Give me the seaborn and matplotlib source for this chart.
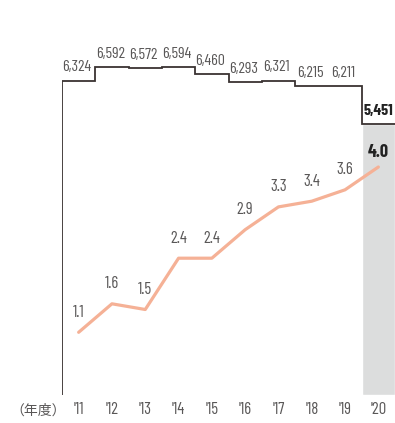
import numpy as np
import pandas as pd
import matplotlib
matplotlib.use("Agg")
import matplotlib.pyplot as plt
import seaborn as sns

years = ["'11", "'12", "'13", "'14", "'15", "'16", "'17", "'18", "'19", "'20"]
counts = [6324, 6592, 6572, 6594, 6460, 6293, 6321, 6215, 6211, 5451]
rates = [1.1, 1.6, 1.5, 2.4, 2.4, 2.9, 3.3, 3.4, 3.6, 4.0]
count_labels = ["6,324", "6,592", "6,572", "6,594", "6,460", "6,293", "6,321", "6,215", "6,211", "5,451"]
rate_labels = ["1.1", "1.6", "1.5", "2.4", "2.4", "2.9", "3.3", "3.4", "3.6", "4.0"]
unit_label = "（年度）"

sns.set_theme(style="white")
NUM_FONT = ["Barlow Condensed", "DejaVu Sans"]
plt.rcParams["font.family"] = NUM_FONT

TXT = "#595757"
LINE = "#3a3332"
ORANGE = "#f5b196"
GRAY = "#dcdddd"
FS = 12

fig = plt.figure(figsize=(3.95, 4.23), dpi=100)
ax = fig.add_axes([62 / 395, 28 / 423, 333 / 395, 375 / 423])
x = np.arange(len(years))
df = pd.DataFrame({"x": x, "year": years, "count": counts, "rate": rates})

# gray highlight for the last year
ax.bar(x[-1], counts[-1], width=1.0, color=GRAY, zorder=1)

# step line for counts
edges = np.arange(len(years) + 1) - 0.5
ax.stairs(counts, edges, baseline=None, color=LINE, linewidth=1.3, zorder=3)
ax.vlines(edges[0], 0, counts[0], color=LINE, linewidth=1.3, zorder=3)

ax.set_xlim(-0.5, len(years) - 0.5)
ax.set_ylim(0, 375 / (271 / 5451))
for i, (c, lab) in enumerate(zip(counts, count_labels)):
    last = i == len(years) - 1
    ax.annotate(lab, (x[i] + (0.0 if last else -0.05), c), xytext=(0, 4.5), textcoords="offset points",
                ha="center", va="bottom", fontsize=FS - 0.5, color=("#222222" if last else TXT),
                fontweight=("bold" if last else "normal"), zorder=5)

ax2 = ax.twinx()
sns.lineplot(data=df, x="x", y="rate", ax=ax2, color=ORANGE, linewidth=2.3, zorder=4)
ax2.set_ylim(0, 375 / ((395 - 167) / 4.0))
ax2.set_xlim(-0.5, len(years) - 0.5)
for i, (r, lab) in enumerate(zip(rates, rate_labels)):
    last = i == len(years) - 1
    ax2.annotate(lab, (x[i], r), xytext=(0, 4 if last else 9), textcoords="offset points",
                 ha="center", va="bottom", fontsize=FS if not last else FS + 1,
                 color=("#222222" if last else TXT),
                 fontweight=("bold" if last else "normal"), zorder=5)

for a in (ax, ax2):
    for s in a.spines.values():
        s.set_visible(False)
    a.set_yticks([])
    a.set_ylabel("")
    a.set_xlabel("")

ax.set_xticks(x)
ax.set_xticklabels(years, fontsize=FS, color=TXT)
ax.tick_params(axis="x", length=0, pad=5)
ax2.tick_params(axis="x", length=0)
ax.text(38 / 395, 1 - 411 / 423, unit_label, transform=fig.transFigure,
        ha="center", va="center", fontsize=10, color=TXT,
        family=["Noto Sans CJK JP", "DejaVu Sans"])

fig.savefig("out.png", dpi=100)
